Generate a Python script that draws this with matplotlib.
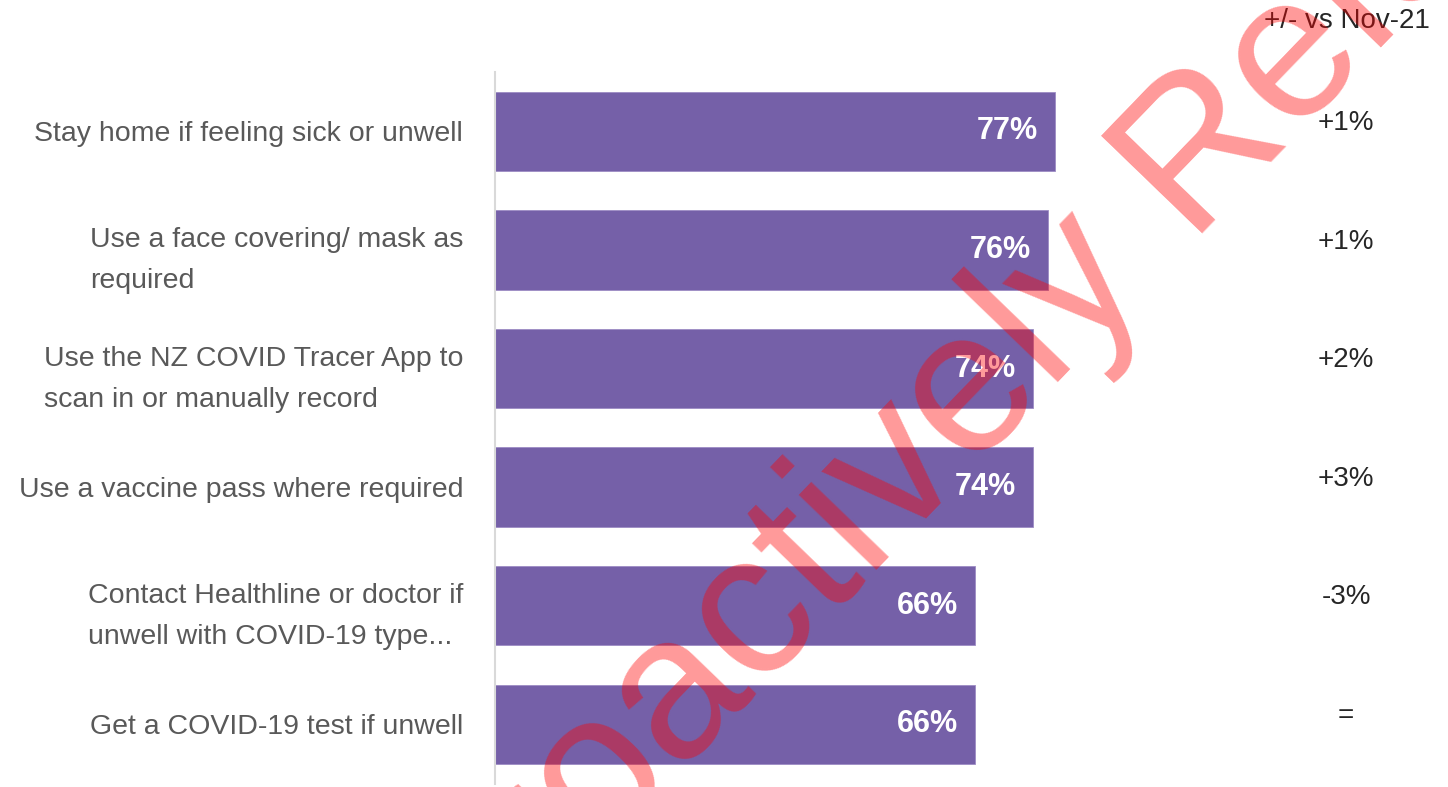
import numpy as np
import matplotlib
matplotlib.use('Agg')
from matplotlib import pyplot as plt

## chart data
labels = ['Stay home if feeling sick or unwell',
          'Use a face covering/ mask as\nrequired',
          'Use the NZ COVID Tracer App to\nscan in or manually record',
          'Use a vaccine pass where required',
          'Contact Healthline or doctor if\nunwell with COVID-19 type...',
          'Get a COVID-19 test if unwell']
values  = [77, 76, 74, 74, 66, 66]
changes = ['+1%', '+1%', '+2%', '+3%', '-3%', '=']
header  = '+/- vs Nov-21'
watermark = 'Proactively Released'

plt.rcParams['font.family'] = ['Liberation Sans', 'DejaVu Sans']

fig = plt.figure(figsize=(14.48, 7.87), dpi=100)
ax = fig.add_axes([495/1448, 3.4/787, 727/1448, 711.6/787])

pos = np.arange(len(values))
ax.barh(pos, values, height=0.67, color='#7560A8', edgecolor='#9d8cc4', linewidth=0.6)

ax.set_xlim(0, 100)
ax.set_ylim(len(values) - 0.5, -0.5)

## value labels inside the bars
for i, v in enumerate(values):
    ax.text(v - 2.3, i, f'{v}%', ha='right', va='center', color='white',
            fontsize=22, fontweight='bold')

## change column on the right
for i, c in enumerate(changes):
    ax.text(1.1706, i - 0.07, c, transform=ax.get_yaxis_transform(),
            ha='center', va='center', color='#262626', fontsize=20)

fig.text(1430/1448, 1 - 21/787, header, ha='right', va='center',
         color='#262626', fontsize=20)

## axis look
ax.set_yticks(pos)
ax.set_yticklabels(labels, fontsize=20.5, color='#595959', linespacing=1.75)
for lbl in ax.get_yticklabels():
    lbl.set_multialignment('left')
ax.tick_params(axis='y', length=0, pad=23)
ax.set_xticks([])
for side in ['top', 'right', 'bottom']:
    ax.spines[side].set_visible(False)
ax.spines['left'].set_color('#d9d9d9')
ax.spines['left'].set_linewidth(1.5)

## watermark over everything
fig.text(458/1448, -217/787, watermark, rotation=46, rotation_mode='anchor',
         ha='left', va='baseline', fontsize=147, color='red', alpha=0.4,
         zorder=10)

fig.savefig('out.png', dpi=100)
